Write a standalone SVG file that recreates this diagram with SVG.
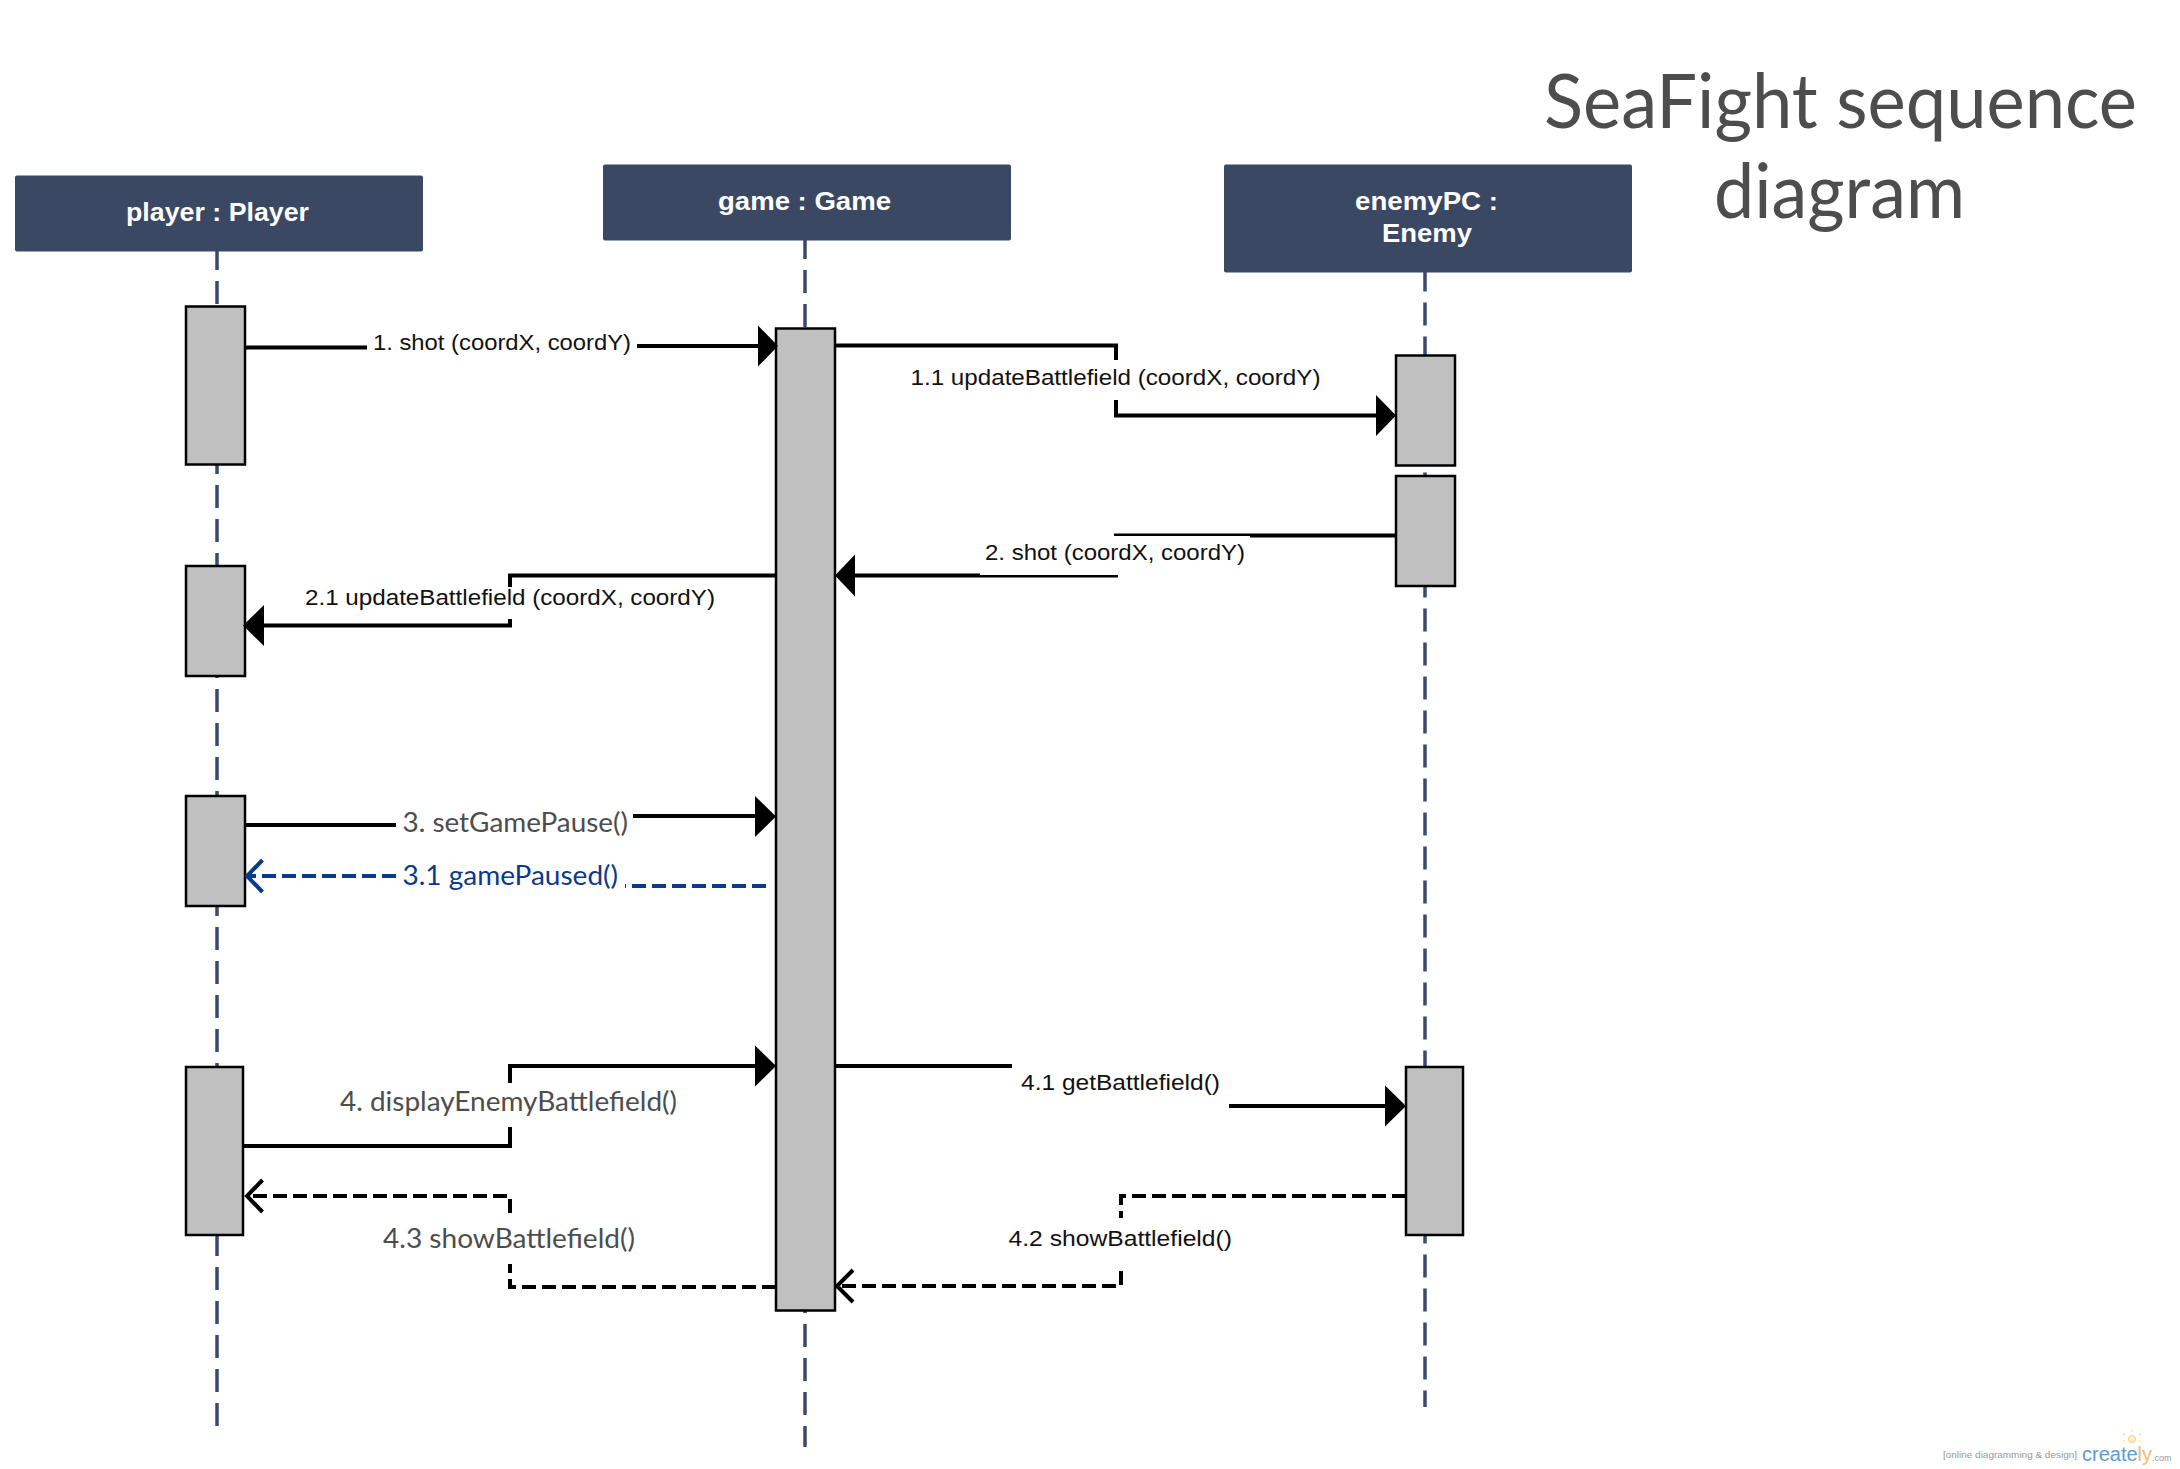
<svg xmlns="http://www.w3.org/2000/svg" width="2180" height="1469" viewBox="0 0 2180 1469">
<defs>
<style>
.head{fill:#3a4863}
.htxt{font:bold 26px "Liberation Sans",Arial,sans-serif;fill:#fff}
.life{stroke:#3a4a68;stroke-width:3.5;stroke-dasharray:23 11;fill:none}
.act{fill:#c0c0c0;stroke:#000;stroke-width:2.5}
.c{fill:none;stroke:#000;stroke-width:4}
.d{stroke-dasharray:14 6}
.b{stroke:#0b3a8c}
.tip{fill:#000;stroke:none}
.mask{fill:#fff}
.a{font:22px "Liberation Sans",Arial,sans-serif;fill:#111}
.l{font:27px Lato,"Open Sans",sans-serif;fill:#4d4d4d}
</style>
</defs>
<rect width="2180" height="1469" fill="#fff"/>
<g id="title"><text x="1544" y="128" font-family="Lato,sans-serif" font-size="76" fill="#4d4d4d" textLength="593" lengthAdjust="spacingAndGlyphs">SeaFight sequence</text><text x="1714" y="218" font-family="Lato,sans-serif" font-size="76" fill="#4d4d4d" textLength="251" lengthAdjust="spacingAndGlyphs">diagram</text></g>
<g id="lifelines">
<line class="life" x1="217" y1="251" x2="217" y2="1431" stroke-dashoffset="4"/>
<line class="life" x1="805" y1="240" x2="805" y2="1447" stroke-dashoffset="4"/>
<line class="life" x1="1425" y1="271.500" x2="1425" y2="1407" stroke-dashoffset="3"/>
</g>
<g id="player"><rect class="head" x="15" y="175.500" width="408" height="76" rx="2"/><text class="htxt" x="126" y="220.500" textLength="183" lengthAdjust="spacingAndGlyphs">player : Player</text></g>
<g id="game"><rect class="head" x="603" y="164.500" width="408" height="76" rx="2"/><text class="htxt" x="718" y="209.500" textLength="173" lengthAdjust="spacingAndGlyphs">game : Game</text></g>
<g id="enemyPC"><rect class="head" x="1224" y="164.500" width="408" height="108" rx="2"/><text class="htxt" x="1355" y="209.500" textLength="143" lengthAdjust="spacingAndGlyphs">enemyPC :</text><text class="htxt" x="1382" y="241.500" textLength="90" lengthAdjust="spacingAndGlyphs">Enemy</text></g>
<g id="player-act1"><rect class="act" x="186" y="306.500" width="59" height="158"/></g>
<g id="player-act2"><rect class="act" x="186" y="566" width="59" height="110"/></g>
<g id="player-act3"><rect class="act" x="186" y="796" width="59" height="110"/></g>
<g id="player-act4"><rect class="act" x="186" y="1067" width="57" height="168"/></g>
<g id="game-act"><rect class="act" x="776" y="328.500" width="59" height="982"/></g>
<g id="enemy-act1"><rect class="act" x="1396" y="355.500" width="59" height="110"/></g>
<g id="enemy-act2"><rect class="act" x="1396" y="476" width="59" height="110"/></g>
<g id="enemy-act3"><rect class="act" x="1406" y="1067" width="57" height="168"/></g>
<g id="connectors">
<path class="c" d="M245 347.500H500V346H760"/>
<polygon class="tip" points="758,325.500 778,346 758,366.500"/>
<rect class="mask" x="367" y="330" width="270" height="30"/>
<text class="a" x="373" y="350" textLength="258" lengthAdjust="spacingAndGlyphs">1. shot (coordX, coordY)</text>

<path class="c" d="M835 345.500H1116V415.500H1380"/>
<polygon class="tip" points="1376,395 1396,415.500 1376,436"/>
<rect class="mask" x="905" y="360" width="420" height="40"/>
<text class="a" x="910.500" y="385" textLength="410" lengthAdjust="spacingAndGlyphs">1.1 updateBattlefield (coordX, coordY)</text>

<path class="c" d="M1396 535.500H1116V575.500H850"/>
<polygon class="tip" points="855,554.500 835,575.500 855,596.500"/>
<rect class="mask" x="980" y="536" width="270" height="39"/>
<text class="a" x="985" y="560" textLength="260" lengthAdjust="spacingAndGlyphs">2. shot (coordX, coordY)</text>

<path class="c" d="M776 575.500H510V625.500H260"/>
<polygon class="tip" points="264,605 243,625.500 264,646"/>
<rect class="mask" x="300" y="587" width="420" height="32"/>
<text class="a" x="305" y="605" textLength="410" lengthAdjust="spacingAndGlyphs">2.1 updateBattlefield (coordX, coordY)</text>

<path class="c" d="M245 825H500V816H760"/>
<polygon class="tip" points="755,796 776,816.500 755,837"/>
<rect class="mask" x="396" y="800" width="237" height="40"/>
<text class="l" x="402.500" y="832" textLength="225.500" lengthAdjust="spacingAndGlyphs">3. setGamePause()</text>

<path class="c d b" d="M766 886H500V876H248"/>
<path class="c b" d="M262.500 860L247 876L262.500 892"/>
<rect class="mask" x="396" y="860" width="229" height="35"/>
<text class="l" x="402.500" y="885" style="fill:#0b3a8c" textLength="215.500" lengthAdjust="spacingAndGlyphs">3.1 gamePaused()</text>

<path class="c" d="M243 1146H510V1066H760"/>
<polygon class="tip" points="755,1045.500 776,1066 755,1086.500"/>
<rect class="mask" x="335" y="1083" width="347" height="44"/>
<text class="l" x="340" y="1111" textLength="337" lengthAdjust="spacingAndGlyphs">4. displayEnemyBattlefield()</text>

<path class="c" d="M835 1066H1012M1229 1106H1390"/>
<polygon class="tip" points="1385,1085.500 1406,1106 1385,1126.500"/>
<text class="a" x="1021" y="1090" textLength="199" lengthAdjust="spacingAndGlyphs">4.1 getBattlefield()</text>

<path class="c d" d="M1406 1196H1121V1286H838"/>
<path class="c" d="M853 1270L837 1286L853 1302"/>
<rect class="mask" x="1003" y="1218" width="235" height="53"/>
<text class="a" x="1008.500" y="1246" textLength="223.500" lengthAdjust="spacingAndGlyphs">4.2 showBattlefield()</text>

<path class="c d" d="M776 1287H510V1196H248"/>
<path class="c" d="M262.500 1180L247 1196L262.500 1212"/>
<rect class="mask" x="378" y="1219" width="262" height="45"/>
<text class="l" x="383" y="1248" textLength="252" lengthAdjust="spacingAndGlyphs">4.3 showBattlefield()</text>
</g>
<g id="watermark">
<text x="1943" y="1458" font-family="Liberation Sans,sans-serif" font-size="9" fill="#999" textLength="134" lengthAdjust="spacingAndGlyphs">[online diagramming &amp; design]</text>
<text x="2082" y="1461" font-family="Liberation Sans,sans-serif" font-size="20" fill="#5b9bd5">create<tspan fill="#f5b971">ly</tspan><tspan font-size="9" fill="#999">.com</tspan></text>
<circle cx="2132" cy="1439" r="3.500" fill="#fff3c4" stroke="#f8cf7f"/>
<path d="M2132 1432v-2M2125 1435l-2-1M2139 1435l2-1M2125 1441h-2M2139 1441h2" stroke="#f8cf7f" fill="none"/>
</g>
</svg>
